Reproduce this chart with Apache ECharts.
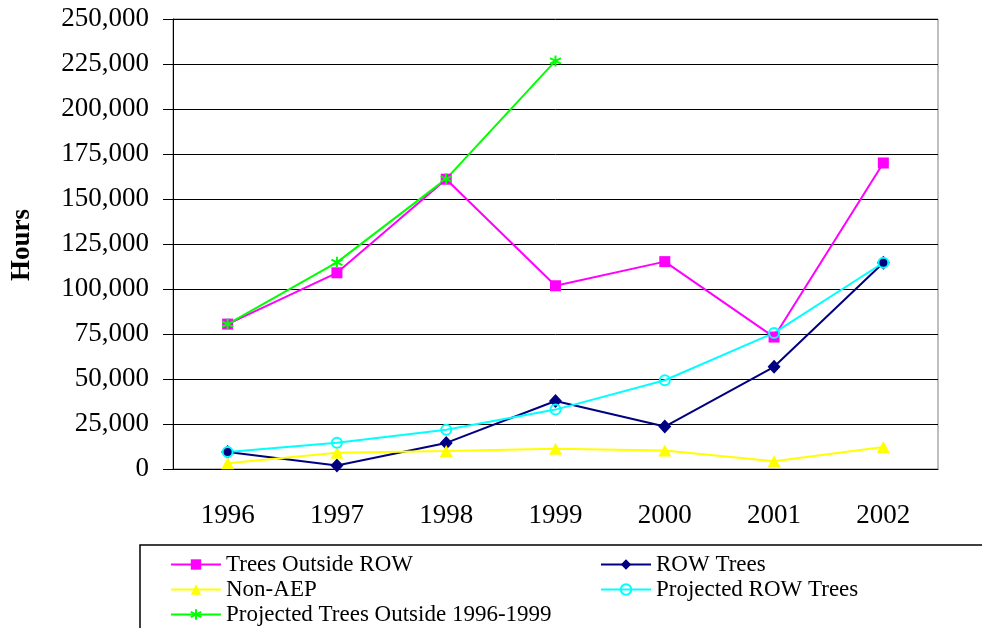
<!DOCTYPE html>
<html>
<head>
<meta charset="utf-8">
<script src="https://cdn.jsdelivr.net/npm/echarts@6/dist/echarts.min.js"></script>
<style>html,body{margin:0;padding:0;background:#fff;}#c{width:982px;height:628px;}</style>
</head>
<body>
<div id="c"></div>
<script>
var years = ['1996','1997','1998','1999','2000','2001','2002'];
var treesOutsideROW = [80500, 109000, 161000, 101800, 115200, 73300, 170000];
var rowTrees = [9500, 2000, 14500, 37800, 23600, 56800, 114600];
var nonAEP = [3200, 9000, 10000, 11200, 10300, 4300, 12200];
var projectedROWTrees = [9500, 14600, 21800, 33000, 49300, 75600, 114600];
var projectedTreesOutside = [80500, 114800, 161200, 226700];

var serif = '"Liberation Serif", "DejaVu Serif", serif';
var asterisk = 'path://M5 0 L5 10 M0.7 2.5 L9.3 7.5 M0.7 7.5 L9.3 2.5';

var chart = echarts.init(document.getElementById('c'));
chart.setOption({
  animation: false,
  backgroundColor: '#fff',
  grid: { left: 173, top: 19, right: 44, bottom: 159, show: true, borderColor: '#808080', borderWidth: 1, backgroundColor: 'transparent' },
  xAxis: {
    type: 'category',
    data: years,
    boundaryGap: true,
    axisLine: { lineStyle: { color: '#000', width: 1 } },
    axisTick: { length: 9, lineStyle: { color: '#000' } },
    axisLabel: { color: '#000', fontFamily: serif, fontSize: 27, margin: 33 }
  },
  yAxis: {
    type: 'value',
    min: 0, max: 250000, interval: 25000,
    axisLine: { show: true, lineStyle: { color: '#000', width: 1 } },
    axisTick: { show: true, length: 10, lineStyle: { color: '#000' } },
    splitLine: { lineStyle: { color: '#000', width: 1 } },
    axisLabel: { color: '#000', fontFamily: serif, fontSize: 27, margin: 24,
      formatter: function (v) { return v.toLocaleString('en-US'); } }
  },
  legend: [
    {
      data: ['Trees Outside ROW', 'Non-AEP', 'Projected Trees Outside 1996-1999'],
      orient: 'vertical', left: 170, top: 553, itemWidth: 50, itemHeight: 13, itemGap: 2, padding: 0,
      textStyle: { color: '#000', fontFamily: serif, fontSize: 23 }
    },
    {
      data: ['ROW Trees', 'Projected ROW Trees'],
      orient: 'vertical', left: 600, top: 553, itemWidth: 50, itemHeight: 13, itemGap: 2, padding: 0,
      textStyle: { color: '#000', fontFamily: serif, fontSize: 23 }
    }
  ],
  graphic: [
    { type: 'rect', shape: { x: 140, y: 545, width: 900, height: 120 }, style: { fill: 'none', stroke: '#000', lineWidth: 1.5 }, z: 0 },
    { type: 'text', x: 22, y: 245, rotation: Math.PI / 2,
      style: { text: 'Hours', fill: '#000', font: 'bold 27px ' + serif, textAlign: 'center', textVerticalAlign: 'middle' } }
  ],
  series: [
    { name: 'Trees Outside ROW', type: 'line', data: treesOutsideROW, symbol: 'rect', symbolSize: 11,
      lineStyle: { color: '#FF00FF', width: 2 }, itemStyle: { color: '#FF00FF' } },
    { name: 'ROW Trees', type: 'line', data: rowTrees, symbol: 'diamond', symbolSize: [13, 14],
      lineStyle: { color: '#000080', width: 2 }, itemStyle: { color: '#000080' } },
    { name: 'Non-AEP', type: 'line', data: nonAEP, symbol: 'triangle', symbolSize: [13, 12],
      lineStyle: { color: '#FFFF00', width: 2 }, itemStyle: { color: '#FFFF00' } },
    { name: 'Projected ROW Trees', type: 'line', data: projectedROWTrees, symbol: 'circle', symbolSize: 10,
      lineStyle: { color: '#00FFFF', width: 2 }, itemStyle: { color: 'rgba(255,255,255,0)', borderColor: '#00FFFF', borderWidth: 2 } },
    { name: 'Projected Trees Outside 1996-1999', type: 'line', data: projectedTreesOutside, symbol: asterisk, symbolSize: 11,
      lineStyle: { color: '#00FF00', width: 2 }, itemStyle: { color: 'rgba(0,255,0,0)', borderColor: '#00FF00', borderWidth: 2 } }
  ]
});
</script>
</body>
</html>
